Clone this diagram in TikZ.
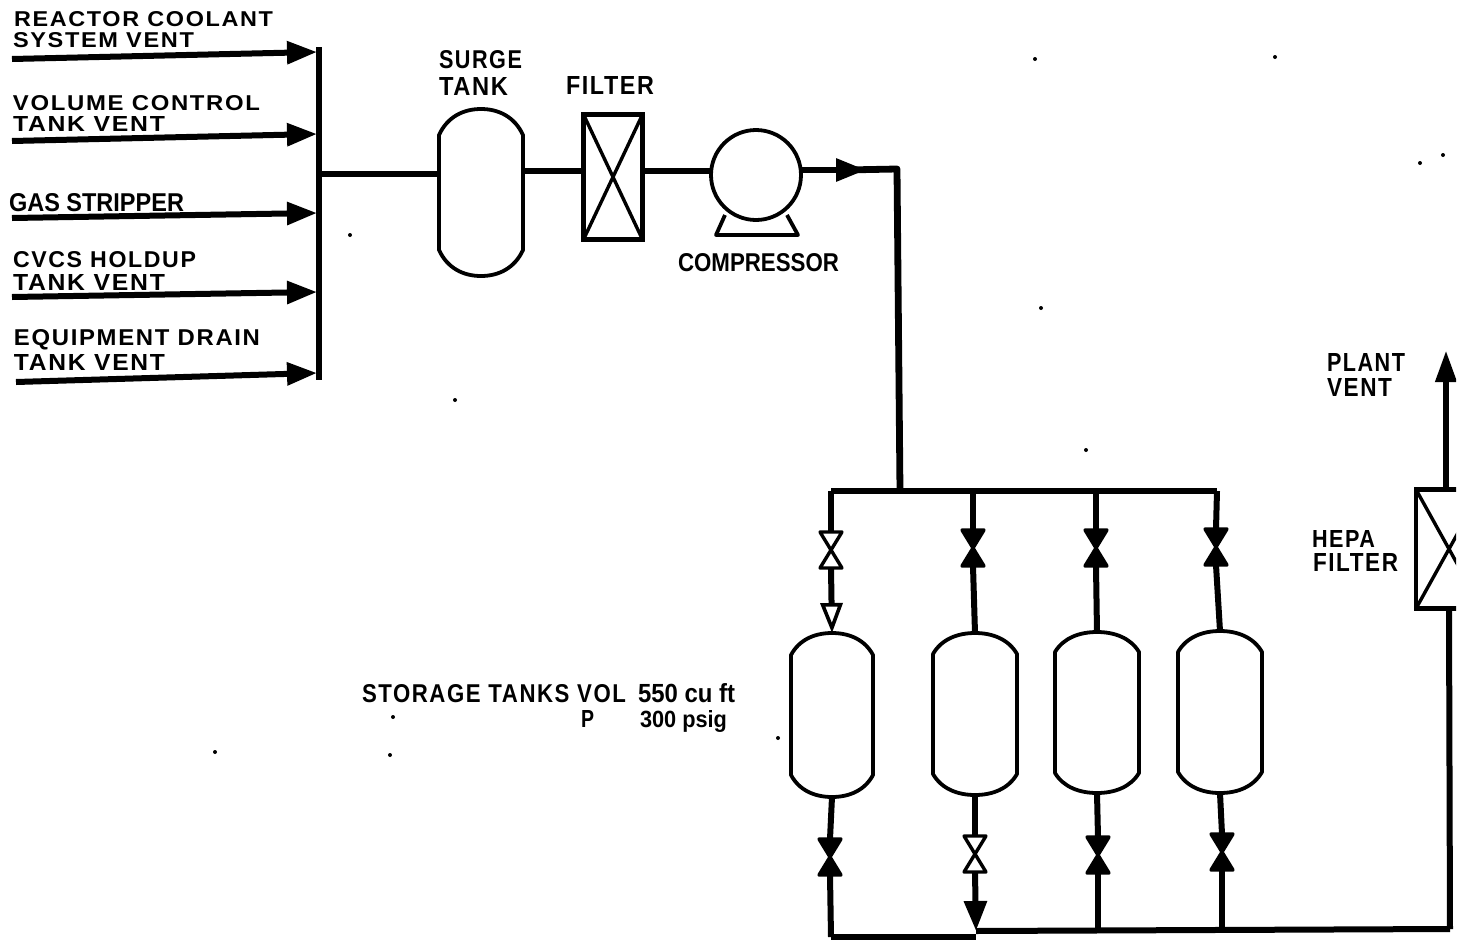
\documentclass[tikz,border=0pt]{standalone}
\usepackage{fontspec}
\usepackage{graphicx}
\setmainfont{Liberation Sans}
\usetikzlibrary{arrows.meta}
\tikzset{
  pipe/.style={line width=3pt,line join=round,line cap=butt},
  thinline/.style={line width=1.9pt,line join=round},
  hub/.style={inner sep=0pt,outer sep=0pt},
  txt/.style={inner sep=0pt,outer sep=0pt,anchor=base west},
  solidhead/.style={-{Triangle[length=15pt,width=11pt]}},
  openhead/.style={-{Triangle[open,length=15pt,width=11pt,line width=1.8pt]}},
}
\newcommand{\ls}[1]{{\addfontfeature{LetterSpace=7}#1}}
\newcommand{\tankshape}[6]{% name cx top bot halfw shoulder
  \node[hub,minimum width=#5*1pt,minimum height=(#4-#3)*0.5pt] (#1) at (#2,{(#3+#4)/2}) {};
  \draw[thinline,fill=white] (#2-#5,#3+#6)
    .. controls (#2-#5*0.8,#3+#6*0.3) and (#2-#5*0.42,#3) .. (#1.north)
    .. controls (#2+#5*0.42,#3) and (#2+#5*0.8,#3+#6*0.3) .. (#2+#5,#3+#6)
    -- (#2+#5,#4-#6)
    .. controls (#2+#5*0.8,#4-#6*0.3) and (#2+#5*0.42,#4) .. (#1.south)
    .. controls (#2-#5*0.42,#4) and (#2-#5*0.8,#4-#6*0.3) .. (#2-#5,#4-#6) -- cycle;
}
\newcommand{\valveshape}[4]{% name cx cy fill
  \node[hub,minimum width=11pt,minimum height=18pt] (#1) at (#2,#3) {};
  \draw[line width=1.7pt,line join=round,fill=#4] (#1.north west) -- (#1.south east) -- (#1.south west) -- (#1.north east) -- cycle;
}
\newcommand{\filtershape}[6]{% name cx cy width height lw
  \node[hub,draw,line width=#6,minimum width=#4*0.5pt,minimum height=#5*0.5pt] (#1) at (#2,#3) {};
  \draw[line width=1.7pt] (#1.north west) -- (#1.south east) (#1.north east) -- (#1.south west);
}
\newcommand{\lab}[6]{% name x base x2 capheight text
  \pgfmathsetlengthmacro{\labw}{(#4-#2)*0.5pt}%
  \pgfmathsetlengthmacro{\labh}{#5*0.5pt}%
  \node[txt] (#1) at (#2,#3) {\resizebox{\labw}{\labh}{\bfseries #6}};
}
\begin{document}
\begin{tikzpicture}[x=0.5pt,y=-0.5pt]
\useasboundingbox (0,0) rectangle (1464,943);
\fill[white] (0,0) rectangle (1464,943);

% inlet bus
\coordinate (busTop) at (319,47);
\coordinate (busBot) at (319,380);
\draw[pipe] (busTop) -- (busBot);
\foreach \n/\xa/\ya/\yb in {a/12/59/52,b/12/141/134,c/12/218/213,d/12/297/292,e/16/382/373}{
  \coordinate (in\n) at (\xa,\ya);
  \coordinate (bus\n) at (317,\yb);
  \draw[pipe,solidhead] (in\n) -- (bus\n);
}
\lab{l1}{14}{26}{273}{15}{\ls{REACTOR COOLANT}}
\lab{l2}{13}{47}{194}{15}{\ls{SYSTEM VENT}}
\lab{l3}{13}{110}{260}{15}{\ls{VOLUME CONTROL}}
\lab{l4}{13}{131}{165}{15}{\ls{TANK VENT}}
\lab{l5}{9}{211}{184}{18}{GAS STRIPPER}
\lab{l6}{13}{267}{196}{16}{\ls{CVCS HOLDUP}}
\lab{l7}{13}{290}{165}{16}{\ls{TANK VENT}}
\lab{l8}{14}{345}{260}{16}{\ls{EQUIPMENT DRAIN}}
\lab{l9}{14}{370}{165}{16}{\ls{TANK VENT}}

% surge tank, filter, compressor
\tankshape{surge}{481}{109}{276}{42}{26}
\lab{l10}{439}{68}{522}{18}{\ls{SURGE}}
\lab{l11}{439}{95}{508}{18}{\ls{TANK}}
\filtershape{filter}{613}{177}{59}{125}{2.2pt}
\lab{l12}{566}{94}{654}{18}{\ls{FILTER}}
\node[hub,draw,thinline,circle,minimum size=45pt] (comp) at (756,175) {};
\coordinate (legL) at (725,215);
\coordinate (legLb) at (716,235);
\coordinate (legRb) at (798,235);
\coordinate (legR) at (787,215);
\draw[thinline] (legL) -- (legLb) -- (legRb) -- (legR);
\lab{l13}{678}{271}{839}{18}{COMPRESSOR}

\coordinate (j0) at (321,174);
\coordinate (r1) at (0,171);
\draw[pipe] (j0) -- (surge.west |- j0);
\draw[pipe] (surge.east |- r1) -- (filter.west |- r1);
\draw[pipe] (filter.east |- r1) -- (comp.west |- r1);
\coordinate (headBase) at (845,170);
\coordinate (headTip) at (866,170);
\coordinate (corner) at (897,169);
\coordinate (drop) at (900,491);
\draw[pipe,solidhead] (comp.east |- headTip) -- (headTip);
\draw[pipe,line width=3.4pt] (headBase) -- (corner) -- (drop);

% header and collector
\coordinate (hL) at (831,491);
\coordinate (hR) at (1217,491);
\draw[pipe] (hL) -- (hR);
\coordinate (cL) at (831,937);
\coordinate (cM) at (976,937);
\coordinate (cM2) at (976,931);
\coordinate (cR) at (1450,929);
\draw[pipe] (cL) -- (cM);
\draw[pipe] (cM2) -- (cR);

% tanks
\tankshape{t1}{832}{633}{797}{41}{22}
\tankshape{t2}{975}{633}{795}{42}{21}
\tankshape{t3}{1097}{632}{793}{42}{20}
\tankshape{t4}{1220}{631}{793}{42}{21}

% valves
\valveshape{v1}{831}{550}{white}
\valveshape{v2}{973}{548}{black}
\valveshape{v3}{1096}{548}{black}
\valveshape{v4}{1216}{547}{black}
\valveshape{w1}{830}{857}{black}
\valveshape{w2}{975}{854}{white}
\valveshape{w3}{1098}{855}{black}
\valveshape{w4}{1222}{852}{black}

\coordinate (h2) at (973,491);
\coordinate (h3) at (1096,491);
\coordinate (c3) at (1098,931);
\coordinate (c4) at (1222,930);
\draw[pipe] (hL) -- (v1.north);
\draw[pipe] (h2) -- (v2.north);
\draw[pipe] (h3) -- (v3.north);
\draw[pipe] (hR) -- (v4.north);
\draw[pipe,openhead] (v1.south) -- (t1.north);
\draw[pipe] (v2.south) -- (t2.north);
\draw[pipe] (v3.south) -- (t3.north);
\draw[pipe] (v4.south) -- (t4.north);
\draw[pipe] (t1.south) -- (w1.north);
\draw[pipe] (t2.south) -- (w2.north);
\draw[pipe] (t3.south) -- (w3.north);
\draw[pipe] (t4.south) -- (w4.north);
\draw[pipe] (w1.south) -- (cL);
\draw[pipe,solidhead] (w2.south) -- (cM2);
\draw[pipe] (w3.south) -- (c3);
\draw[pipe] (w4.south) -- (c4);

\lab{l14}{362}{702}{626}{18}{\ls{STORAGE TANKS VOL}}
\lab{l15}{638}{702}{735}{19}{550 cu ft}
\lab{l16}{581}{727}{594}{17}{P}
\lab{l17}{640}{727}{727}{17}{300 psig}

% HEPA and plant vent (cut by the page edge of the scan)
\begin{scope}
  \clip (1400,340) rectangle (1456,943);
  \filtershape{hepa}{1449}{549}{66}{119}{2.2pt}
  \coordinate (ventBase) at (1446,489);
  \coordinate (ventTip) at (1446,350);
  \draw[pipe,line width=3.4pt,-{Triangle[length=16pt,width=10pt]}] (ventBase) -- (ventTip);
  \draw[pipe] (hepa.south) -- (cR);
\end{scope}
\lab{l18}{1327}{371}{1405}{18}{\ls{PLANT}}
\lab{l19}{1327}{396}{1392}{18}{\ls{VENT}}
\lab{l20}{1312}{547}{1375}{17}{\ls{HEPA}}
\lab{l21}{1313}{571}{1398}{18}{\ls{FILTER}}

% specks of the scan
\foreach \x/\y in {1035/59,1275/57,1420/163,1443/155,1041/308,1086/450,455/400,350/235,393/717,215/752,390/755,778/738}
  \fill (\x,\y) circle (1pt);
\end{tikzpicture}
\end{document}
